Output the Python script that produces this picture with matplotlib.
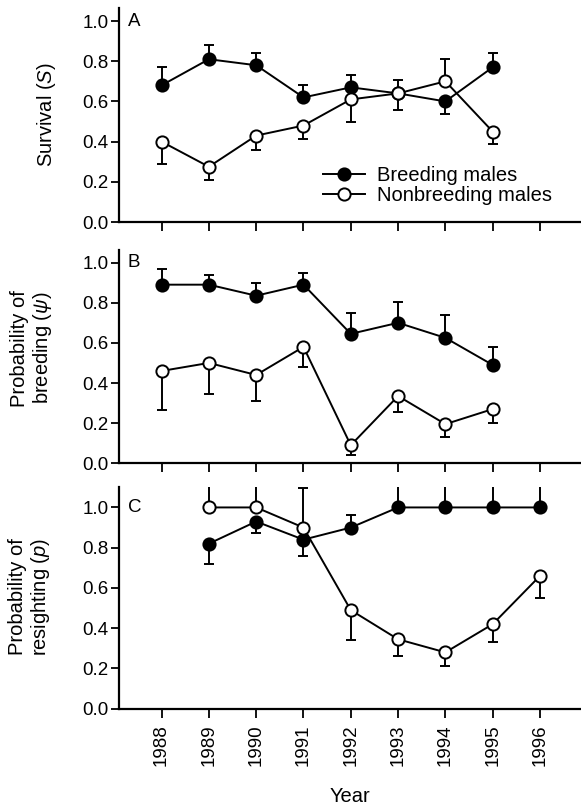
import matplotlib
matplotlib.use("Agg")
import matplotlib.pyplot as plt
import numpy as np

plt.rcParams['font.family'] = ['Liberation Sans', 'DejaVu Sans']
plt.rcParams['mathtext.fontset'] = 'custom'
plt.rcParams['mathtext.it'] = 'Liberation Sans:italic'
plt.rcParams['mathtext.rm'] = 'Liberation Sans'

all_years = [1988, 1989, 1990, 1991, 1992, 1993, 1994, 1995, 1996]

# A: survival (S), 1988-1995
years_S = [1988, 1989, 1990, 1991, 1992, 1993, 1994, 1995]
breed_S = [0.68, 0.81, 0.78, 0.62, 0.67, 0.64, 0.60, 0.77]
breed_S_bar = [0.77, 0.88, 0.84, 0.68, 0.73, 0.705, 0.535, 0.84]
nonbreed_S = [0.40, 0.275, 0.43, 0.48, 0.61, 0.64, 0.70, 0.45]
nonbreed_S_bar = [0.29, 0.21, 0.36, 0.415, 0.50, 0.555, 0.81, 0.39]

# B: probability of breeding (psi), 1988-1995
years_psi = [1988, 1989, 1990, 1991, 1992, 1993, 1994, 1995]
breed_psi = [0.89, 0.89, 0.835, 0.89, 0.645, 0.70, 0.625, 0.49]
breed_psi_bar = [0.97, 0.94, 0.90, 0.95, 0.75, 0.805, 0.74, 0.58]
nonbreed_psi = [0.46, 0.50, 0.44, 0.58, 0.09, 0.335, 0.195, 0.27]
nonbreed_psi_bar = [0.265, 0.345, 0.31, 0.48, 0.04, 0.255, 0.13, 0.20]

# C: probability of resighting (p), 1989-1996
years_p = [1989, 1990, 1991, 1992, 1993, 1994, 1995, 1996]
breed_p = [0.82, 0.93, 0.84, 0.90, 1.0, 1.0, 1.0, 1.0]
breed_p_bar = [0.72, 0.875, 0.76, 0.96, 1.2, 1.2, 1.2, 1.2]
nonbreed_p = [1.0, 1.0, 0.90, 0.49, 0.345, 0.28, 0.42, 0.66]
nonbreed_p_bar = [1.2, 1.2, 1.095, 0.34, 0.26, 0.21, 0.33, 0.55]


def one_sided(vals, ends):
    v = np.array(vals)
    e = np.array(ends)
    lo = np.where(e < v, v - e, 0)
    hi = np.where(e > v, e - v, 0)
    return [lo, hi]


fig = plt.figure(figsize=(5.81, 8.05), dpi=100)
left = 119 / 581
width = 1 - left
ax_a = fig.add_axes([left, 0.7242, width, 0.2659])
ax_b = fig.add_axes([left, 0.4245, width, 0.2650])
ax_c = fig.add_axes([left, 0.1196, width, 0.2758])

panels = [
    (ax_a, years_S, breed_S, breed_S_bar, nonbreed_S, nonbreed_S_bar, 1.065, 'A'),
    (ax_b, years_psi, breed_psi, breed_psi_bar, nonbreed_psi, nonbreed_psi_bar, 1.063, 'B'),
    (ax_c, years_p, breed_p, breed_p_bar, nonbreed_p, nonbreed_p_bar, 1.103, 'C'),
]

ms = 8.8
lw = 1.4
for ax, yrs, b, b_bar, nb, nb_bar, ytop, letter in panels:
    ax.errorbar(yrs, b, yerr=one_sided(b, b_bar), fmt='none', ecolor='black',
                elinewidth=1.4, capsize=3.6, capthick=1.4, zorder=2)
    ax.errorbar(yrs, nb, yerr=one_sided(nb, nb_bar), fmt='none', ecolor='black',
                elinewidth=1.4, capsize=3.6, capthick=1.4, zorder=2)
    ax.plot(yrs, b, '-o', color='black', lw=lw, ms=ms, mfc='black',
            mec='black', mew=1.4, zorder=3, label='Breeding males')
    ax.plot(yrs, nb, '-o', color='black', lw=lw, ms=ms, mfc='white',
            mec='black', mew=1.4, zorder=4, label='Nonbreeding males')
    ax.set_xlim(1987.10, 1996.867)
    ax.set_ylim(0, ytop)
    ax.set_xticks(all_years)
    ax.set_yticks([0.0, 0.2, 0.4, 0.6, 0.8, 1.0])
    ax.set_yticklabels(['0.0', '0.2', '0.4', '0.6', '0.8', '1.0'])
    for s in ['top', 'right']:
        ax.spines[s].set_visible(False)
    for s in ['left', 'bottom']:
        ax.spines[s].set_linewidth(1.6)
    ax.tick_params(axis='y', direction='out', length=6, width=1.3, pad=1.5, labelsize=13.5)
    ax.tick_params(axis='x', direction='out', length=6.5, width=1.3, pad=5, labelsize=13.5)
    ax.text(0.019, 1.0, letter, transform=ax.get_yaxis_transform(),
            ha='left', va='center', fontsize=13.5)

ax_a.set_xticklabels([])
ax_b.set_xticklabels([])
ax_c.set_xticklabels([str(y) for y in all_years], rotation=90)

ax_a.set_ylabel('Survival ($S$)', fontsize=14.5, va='center')
ax_a.yaxis.set_label_coords(-0.158, 0.5)
ax_b.set_ylabel('Probability of\nbreeding ($\\psi$)', fontsize=14.5, va='center',
                linespacing=1.15)
ax_b.yaxis.set_label_coords(-0.188, 0.54)
ax_c.set_ylabel('Probability of\nresighting ($p$)', fontsize=14.5, va='center',
                linespacing=1.15)
ax_c.yaxis.set_label_coords(-0.193, 0.503)
ax_c.set_xlabel('Year', fontsize=14.5)
ax_c.xaxis.set_label_coords(0.5, -0.354)

h = ax_a.get_lines()
ax_a.legend(handles=[h[-2], h[-1]], loc='upper left', bbox_to_anchor=(323 / 581, 1 - 166 / 805),
            bbox_transform=fig.transFigure, frameon=False, fontsize=14.5, borderpad=0,
            borderaxespad=0, handlelength=2.1, handletextpad=0.6, labelspacing=0.05,
            numpoints=1)

fig.savefig('out.png', dpi=100)
